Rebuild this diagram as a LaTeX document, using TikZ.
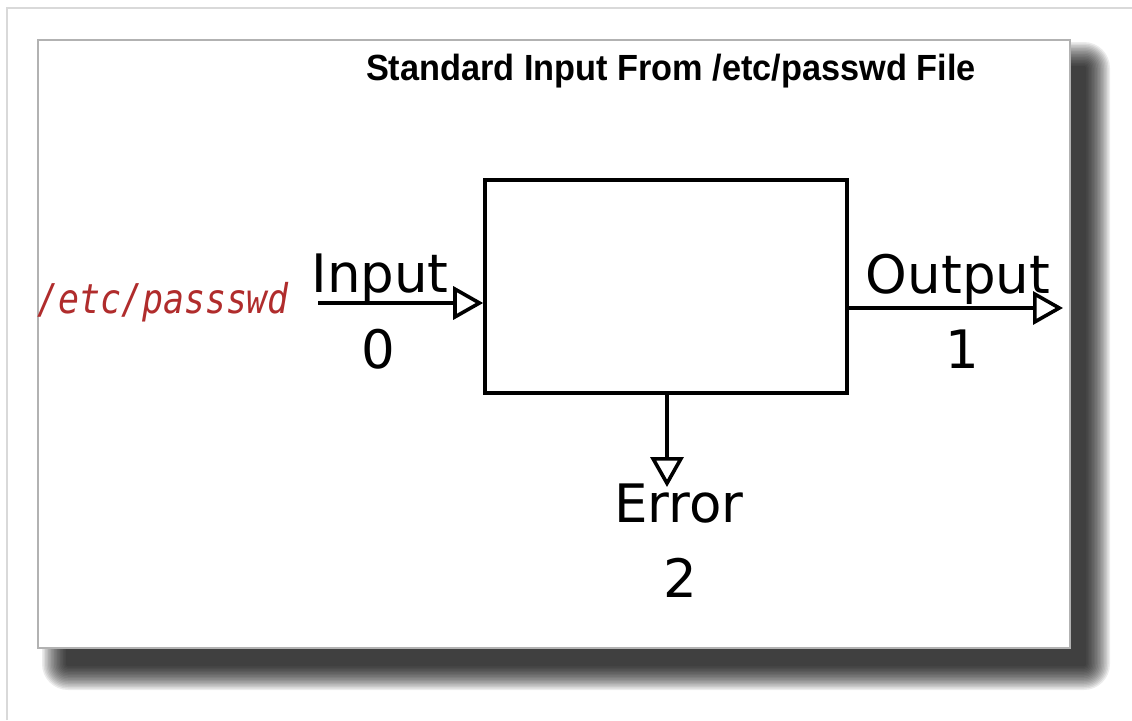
\documentclass[tikz,border=0pt]{standalone}
\usepackage{fontspec}
\setmainfont{DejaVu Sans}
\newfontfamily\titlefont{Liberation Sans}
\newfontfamily\pathfont{DejaVu Sans Mono}
\usepackage{graphicx}
\usetikzlibrary{arrows.meta,positioning,calc}
\definecolor{pathred}{RGB}{176,44,44}

\begin{document}
\begin{tikzpicture}[x=1pt,y=-1pt,
  stream/.style={line width=3.6pt,-{Triangle[open,length=30pt,width=33pt]}},
  lbl/.style={anchor=base,font=\fontsize{53}{60}\selectfont}]
  % ===== Page and outer frame =====
  \fill[white] (0,0) rectangle (1132,720);
  \useasboundingbox (0,0) rectangle (1132,720);
  \draw[gray!30,line width=1.5pt] (7,720) -- (7,8) -- (1132,8);

  % ===== Drop shadow (soft edge) =====
  \foreach \e in {0,1.5,...,24} {
    \fill[black,opacity=0.075,rounded corners={(\e+2)*1pt}] (66-\e,66-\e) rectangle (1086+\e,666+\e);
  }

  % ===== Panel =====
  \fill[white] (38,40) rectangle (1070,648);
  \draw[gray!60,line width=1.2pt] (38,40) rectangle (1070,648);

  % --- Title ---
  \node[anchor=base,font=\titlefont\bfseries\fontsize{35}{40}\selectfont] (title) at (671,80) {\scalebox{0.98}[1.04]{Standard Input From /etc/passwd File}};

  % --- Process box ---
  \node[draw,line width=3.6pt,minimum width=362pt,minimum height=213pt,inner sep=0pt] (proc) at (666,286.5) {};

  % --- Streams ---
  \coordinate (src) at (318,303);
  \coordinate (out1) at (1063,308);
  \coordinate (err2) at (667,487);
  \draw[stream] (src) -- (src -| proc.west);
  \draw[stream] (proc.east |- out1) -- (out1);
  \draw[stream] (proc.south -| err2) -- (err2);

  % --- Labels ---
  \node[anchor=base west,inner sep=0pt,text=pathred,font=\pathfont\itshape\fontsize{41}{48}\selectfont] (file) at (37,313) {\scalebox{0.85}[1]{/etc/passswd}};
  \node[lbl] (inlbl) at (380,292) {Input};
  \node[lbl] (fd0) at (378,368) {0};
  \node[lbl] (outlbl) at (958,293) {Output};
  \node[lbl] (fd1) at (962,368) {1};
  \node[lbl] (errlbl) at (679,522) {Error};
  \node[lbl] (fd2) at (680,597) {2};
\end{tikzpicture}
\end{document}
